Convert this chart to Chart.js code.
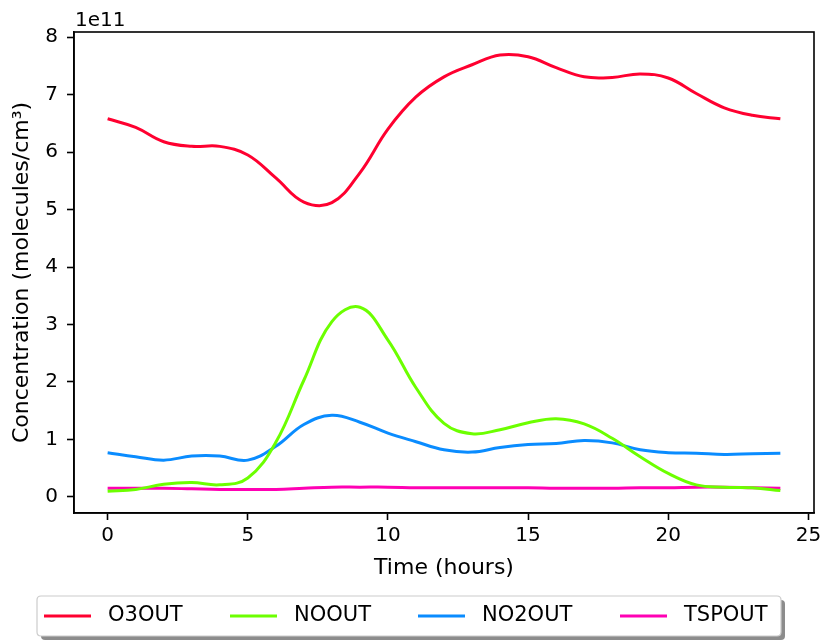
<!DOCTYPE html>
<html>
<head>
<meta charset="utf-8">
<script src="https://cdn.jsdelivr.net/npm/chart.js@4.4.1/dist/chart.umd.min.js"></script>
<style>
  html, body { margin: 0; padding: 0; background: #fff; }
  #wrap { position: relative; width: 833px; height: 641px; }
</style>
</head>
<body>
<div id="wrap"><canvas id="chart" width="833" height="641"></canvas></div>
<script>
// hours of the simulation
const hours = [0,1,2,3,4,5,6,7,8,9,10,11,12,13,14,15,16,17,18,19,20,21,22,23,24];

// concentrations, in units of 1e11 molecules/cm3
const o3out  = [6.58,6.43,6.18,6.10,6.10,5.95,5.55,5.13,5.12,5.64,6.40,6.96,7.31,7.52,7.69,7.66,7.47,7.31,7.30,7.36,7.29,7.02,6.77,6.64,6.58];
const noout  = [0.10,0.13,0.22,0.25,0.21,0.33,0.95,2.03,3.05,3.30,2.73,1.90,1.28,1.10,1.17,1.29,1.36,1.27,1.02,0.70,0.41,0.21,0.17,0.16,0.11];
const no2out = [0.77,0.70,0.64,0.71,0.71,0.64,0.88,1.26,1.42,1.30,1.11,0.96,0.82,0.78,0.86,0.91,0.93,0.98,0.94,0.82,0.77,0.76,0.74,0.75,0.76];
const tspout = [0.15,0.15,0.15,0.14,0.13,0.13,0.13,0.15,0.17,0.17,0.17,0.16,0.16,0.16,0.16,0.16,0.15,0.15,0.15,0.16,0.16,0.17,0.17,0.16,0.15];

const seriesNames = ['O3OUT', 'NOOUT', 'NO2OUT', 'TSPOUT'];
const seriesColors = ['#ff0030', '#6cff00', '#0a8cff', '#ff00b4'];
const xTicks = [0, 5, 10, 15, 20, 25];
const yTicks = [0, 1, 2, 3, 4, 5, 6, 7, 8];

const FONT = "'DejaVu Sans', sans-serif";

function toPoints(vals) {
    return hours.map((h, i) => ({x: h, y: vals[i]}));
}

const allSeries = [o3out, noout, no2out, tspout];
const datasets = allSeries.map((vals, i) => ({
    label: seriesNames[i],
    data: toPoints(vals),
    borderColor: seriesColors[i],
    backgroundColor: seriesColors[i],
    borderWidth: 3,
    pointRadius: 0,
    fill: false,
    tension: 0.4
}));

// frame box, offset text and the matplotlib-like legend
const extras = {
    id: 'extras',
    afterDatasetsDraw(chart) {
        const ctx = chart.ctx;
        const a = chart.chartArea;
        ctx.save();
        ctx.strokeStyle = '#000';
        ctx.lineWidth = 1.6;
        ctx.strokeRect(a.left, a.top, a.right - a.left, a.bottom - a.top);
        ctx.restore();
    },
    afterDraw(chart) {
        const ctx = chart.ctx;
        const a = chart.chartArea;
        ctx.save();
        ctx.fillStyle = '#000';
        ctx.font = '20px ' + FONT;
        ctx.textBaseline = 'alphabetic';
        ctx.textAlign = 'left';
        ctx.fillText('1e11', a.left + 1, 26);

        // legend box with shadow
        const bx = 37, by = 596, bw = 744, bh = 40;
        ctx.fillStyle = 'rgba(0,0,0,0.45)';
        roundRect(ctx, bx + 4, by + 4, bw, bh, 4);
        ctx.fill();
        ctx.fillStyle = '#fff';
        roundRect(ctx, bx, by, bw, bh, 4);
        ctx.fill();
        ctx.strokeStyle = '#cccccc';
        ctx.lineWidth = 1.2;
        ctx.stroke();

        const lineX = [44, 230, 418, 620];
        ctx.font = '21px ' + FONT;
        ctx.textBaseline = 'middle';
        chart.data.datasets.forEach((ds, i) => {
            ctx.strokeStyle = ds.borderColor;
            ctx.lineWidth = 3;
            ctx.beginPath();
            ctx.moveTo(lineX[i], 616);
            ctx.lineTo(lineX[i] + 47, 616);
            ctx.stroke();
            ctx.fillStyle = '#000';
            ctx.fillText(ds.label, lineX[i] + 64, 616);
        });
        ctx.restore();
    }
};

function roundRect(ctx, x, y, w, h, r) {
    ctx.beginPath();
    ctx.moveTo(x + r, y);
    ctx.lineTo(x + w - r, y);
    ctx.quadraticCurveTo(x + w, y, x + w, y + r);
    ctx.lineTo(x + w, y + h - r);
    ctx.quadraticCurveTo(x + w, y + h, x + w - r, y + h);
    ctx.lineTo(x + r, y + h);
    ctx.quadraticCurveTo(x, y + h, x, y + h - r);
    ctx.lineTo(x, y + r);
    ctx.quadraticCurveTo(x, y, x + r, y);
    ctx.closePath();
}

const ctx = document.getElementById('chart').getContext('2d');
new Chart(ctx, {
    type: 'line',
    data: {datasets: datasets},
    options: {
        responsive: false,
        animation: false,
        layout: {padding: {top: 32, right: 19, left: 0, bottom: 0}},
        plugins: {
            legend: {display: false},
            tooltip: {enabled: false}
        },
        scales: {
            x: {
                type: 'linear',
                min: -1.2,
                max: 25.2,
                afterFit: (s) => { s.height = 128; },
                afterBuildTicks: (s) => { s.ticks = xTicks.map(v => ({value: v})); },
                ticks: {
                    color: '#000',
                    font: {family: FONT, size: 20},
                    padding: 4,
                    maxRotation: 0,
                    autoSkip: false
                },
                grid: {
                    drawOnChartArea: false,
                    drawTicks: true,
                    tickLength: 7,
                    tickWidth: 1.6,
                    tickColor: '#000'
                },
                border: {display: true, color: '#000', width: 1.6},
                title: {
                    display: true,
                    text: 'Time (hours)',
                    color: '#000',
                    font: {family: FONT, size: 22},
                    padding: {top: 0, bottom: 60}
                }
            },
            y: {
                type: 'linear',
                min: -0.28,
                max: 8.09,
                afterFit: (s) => { s.width = 74; },
                afterBuildTicks: (s) => { s.ticks = yTicks.map(v => ({value: v})); },
                ticks: {
                    color: '#000',
                    font: {family: FONT, size: 20},
                    padding: 9,
                    autoSkip: false
                },
                grid: {
                    drawOnChartArea: false,
                    drawTicks: true,
                    tickLength: 7,
                    tickWidth: 1.6,
                    tickColor: '#000'
                },
                border: {display: true, color: '#000', width: 1.6},
                title: {
                    display: true,
                    text: 'Concentration (molecules/cm³)',
                    color: '#000',
                    font: {family: FONT, size: 22},
                    padding: {top: 9, bottom: 0}
                }
            }
        }
    },
    plugins: [extras]
});
</script>
</body>
</html>
